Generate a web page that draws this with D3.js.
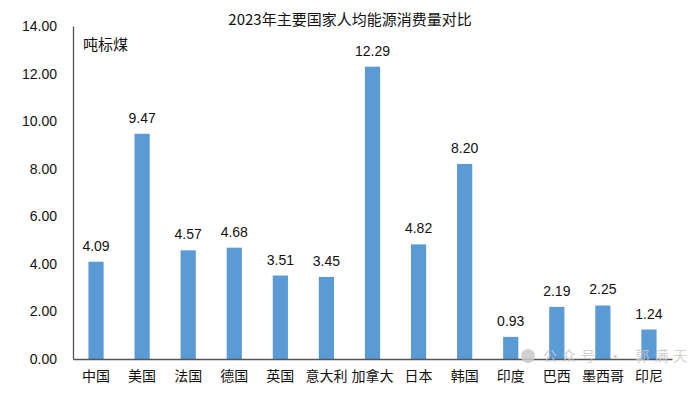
<!DOCTYPE html>
<html>
<head>
<meta charset="utf-8">
<script src="https://cdn.jsdelivr.net/npm/d3@7"></script>
<style>
  body { margin: 0; background: #fff; }
  svg { display: block; }
</style>
</head>
<body>
<script>
// data
var categories = ["中国", "美国", "法国", "德国", "英国", "意大利", "加拿大", "日本", "韩国", "印度", "巴西", "墨西哥", "印尼"];
var values = [4.09, 9.47, 4.57, 4.68, 3.51, 3.45, 12.29, 4.82, 8.20, 0.93, 2.19, 2.25, 1.24];
var yTicks = [0, 2, 4, 6, 8, 10, 12, 14];

var width = 700, height = 397;
var margin = {top: 26, right: 28, bottom: 38, left: 73};
var w = width - margin.left - margin.right;
var h = height - margin.top - margin.bottom;

var cjk = "'Noto Sans CJK SC', sans-serif";
var latin = "'Liberation Sans', Arial, sans-serif";

var svg = d3.select("body").append("svg")
    .attr("width", width)
    .attr("height", height);

var g = svg.append("g")
    .attr("transform", "translate(" + margin.left + "," + margin.top + ")");

var x = d3.scaleBand().domain(categories).range([0, w]).paddingInner(0.67).paddingOuter(0.335);
var y = d3.scaleLinear().domain([0, 14]).range([h, 0]);

// bars
g.selectAll(".bar")
    .data(values)
    .enter().append("rect")
    .attr("class", "bar")
    .attr("x", function(d, i) { return x(categories[i]); })
    .attr("y", function(d) { return y(d); })
    .attr("width", x.bandwidth())
    .attr("height", function(d) { return h - y(d); })
    .attr("fill", "#5b9bd5");

// value labels
g.selectAll(".val")
    .data(values)
    .enter().append("text")
    .attr("class", "val")
    .attr("x", function(d, i) { return x(categories[i]) + x.bandwidth() / 2; })
    .attr("y", function(d) { return y(d) - 11; })
    .attr("text-anchor", "middle")
    .style("font-family", latin)
    .style("font-size", "14px")
    .attr("fill", "#111")
    .text(function(d) { return d.toFixed(2); });

// y axis
var yAxis = g.append("g")
    .call(d3.axisLeft(y).tickValues(yTicks).tickSize(0).tickPadding(16)
        .tickFormat(function(d) { return d.toFixed(2); }));
yAxis.select(".domain").attr("stroke", "#555").attr("stroke-width", 1.3);
yAxis.selectAll("text")
    .style("font-family", latin)
    .style("font-size", "14px")
    .attr("fill", "#111");

// x axis
var xAxis = g.append("g")
    .attr("transform", "translate(0," + h + ")")
    .call(d3.axisBottom(x).tickSize(0).tickPadding(12));
xAxis.select(".domain").attr("stroke", "#555").attr("stroke-width", 1.3);
xAxis.selectAll("text")
    .style("font-family", cjk)
    .style("font-size", "14px")
    .attr("fill", "#111");

// title
svg.append("text")
    .attr("x", 350)
    .attr("y", 25)
    .attr("text-anchor", "middle")
    .style("font-family", cjk)
    .style("font-size", "15px")
    .attr("fill", "#111")
    .text("2023年主要国家人均能源消费量对比");

// unit
svg.append("text")
    .attr("x", 83)
    .attr("y", 50)
    .style("font-family", cjk)
    .style("font-size", "15px")
    .attr("fill", "#111")
    .text("吨标煤");

// watermark
svg.append("text")
    .attr("x", 543)
    .attr("y", 361)
    .style("font-family", cjk)
    .style("font-size", "14px")
    .style("letter-spacing", "5px")
    .attr("fill", "#c8c8c8")
    .attr("opacity", 0.85)
    .text("公众号 · 郭满天");
svg.append("circle")
    .attr("cx", 528).attr("cy", 356).attr("r", 7)
    .attr("fill", "#c8c8c8").attr("opacity", 0.85);
</script>
</body>
</html>
